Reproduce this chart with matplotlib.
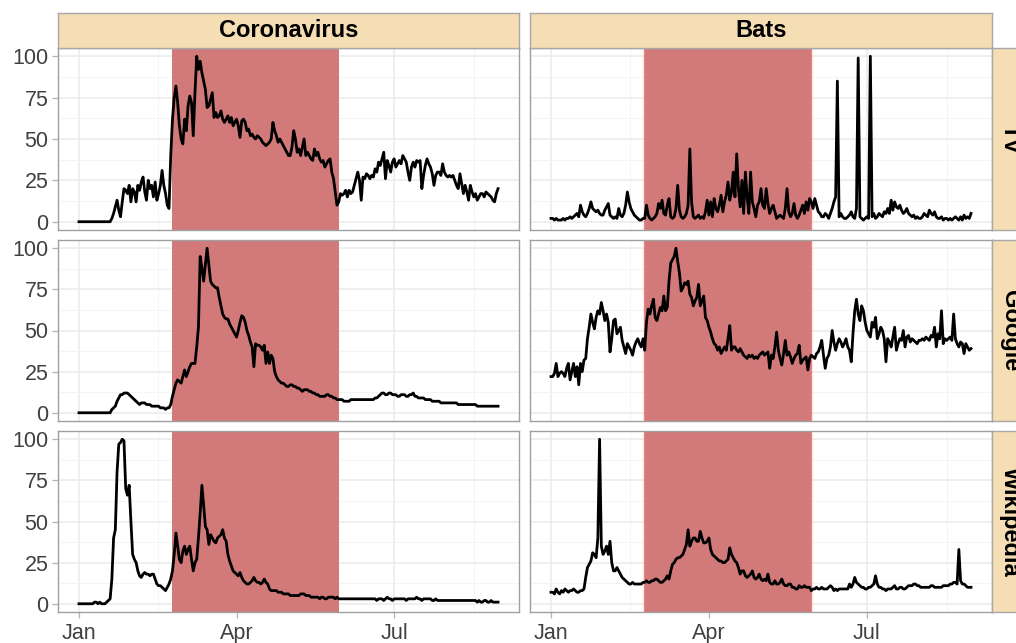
import numpy as np
import pandas as pd
import matplotlib
matplotlib.use("agg")
import matplotlib.pyplot as plt
import matplotlib.dates as mdates

plt.rcParams["font.family"] = ["Liberation Sans", "DejaVu Sans"]

# facet labels
col_labels = ["Coronavirus", "Bats"]
row_labels = ["TV", "Google", "Wikipedia"]
month_labels = ["Jan", "Apr", "Jul"]
month_ticks = ["2020-01-01", "2020-04-01", "2020-07-01"]
start_date = "2020-01-01"
shade_start = "2020-02-23 12:00"
shade_end = "2020-05-30"

# daily values (Jan 1 .. Aug 30)
tv_corona = [
    0, 0, 0, 0, 0, 0, 0, 0, 0, 0,
    0, 0, 0, 0, 0, 0, 0, 0, 0, 2,
    5, 9, 13, 7, 3, 12, 20, 19, 17, 22,
    12, 20, 18, 12, 22, 19, 24, 27, 18, 13,
    25, 20, 22, 15, 24, 13, 17, 22, 31, 22,
    17, 10, 8, 40, 62, 75, 82, 72, 58, 50,
    47, 62, 55, 70, 76, 72, 52, 78, 100, 92,
    97, 90, 85, 80, 69, 70, 74, 78, 63, 66,
    63, 64, 67, 62, 60, 62, 64, 60, 63, 58,
    60, 62, 58, 51, 61, 62, 60, 55, 56, 52,
    53, 51, 50, 52, 51, 50, 48, 47, 46, 47,
    48, 50, 60, 55, 52, 48, 50, 48, 46, 44,
    42, 40, 40, 45, 55, 50, 42, 44, 40, 45,
    50, 40, 42, 40, 38, 37, 44, 40, 42, 38,
    36, 37, 33, 35, 37, 38, 30, 26, 18, 10,
    12, 17, 16, 17, 19, 15, 19, 17, 18, 22,
    26, 30, 25, 13, 27, 26, 29, 28, 26, 28,
    27, 32, 30, 36, 34, 38, 42, 26, 37, 34,
    30, 36, 38, 33, 35, 37, 35, 40, 38, 36,
    30, 25, 33, 36, 33, 37, 36, 37, 20, 28,
    34, 38, 35, 33, 29, 22, 28, 30, 30, 28,
    35, 30, 28, 27, 28, 27, 28, 25, 22, 20,
    29, 23, 17, 22, 18, 13, 22, 18, 15, 17,
    13, 15, 17, 17, 15, 18, 17, 16, 15, 13,
    12, 17, 20,
]
tv_bats = [
    2, 2, 1, 2, 1, 1, 1, 2, 1, 2,
    2, 3, 2, 3, 4, 5, 3, 10, 6, 4,
    3, 5, 8, 12, 8, 7, 6, 7, 5, 4,
    4, 7, 9, 11, 4, 3, 2, 3, 2, 8,
    4, 3, 5, 10, 18, 12, 8, 6, 4, 3,
    2, 1, 1, 2, 2, 10, 4, 2, 1, 2,
    3, 5, 11, 8, 13, 5, 4, 10, 14, 3,
    2, 3, 8, 22, 7, 3, 2, 3, 5, 10,
    44, 12, 3, 2, 3, 4, 2, 3, 2, 6,
    13, 4, 12, 3, 14, 8, 6, 10, 16, 6,
    12, 16, 24, 13, 18, 30, 15, 41, 20, 9,
    25, 5, 30, 15, 5, 30, 12, 8, 3, 10,
    12, 20, 10, 8, 20, 11, 5, 8, 10, 6,
    2, 3, 4, 3, 2, 8, 20, 6, 3, 5,
    11, 4, 2, 4, 7, 10, 5, 12, 7, 14,
    12, 8, 14, 10, 6, 5, 3, 3, 5, 4,
    2, 5, 8, 12, 15, 85, 3, 5, 3, 2,
    2, 3, 4, 6, 3, 2, 8, 99, 3, 2,
    1, 2, 3, 2, 100, 3, 5, 2, 3, 5,
    4, 3, 6, 5, 8, 5, 13, 7, 12, 9,
    8, 10, 7, 5, 6, 8, 5, 4, 3, 4,
    2, 3, 2, 2, 3, 5, 4, 3, 7, 5,
    4, 6, 3, 2, 2, 3, 1, 2, 2, 1,
    2, 1, 2, 3, 2, 1, 3, 1, 4, 2,
    3, 2, 5,
]
google_corona = [
    0, 0, 0, 0, 0, 0, 0, 0, 0, 0,
    0, 0, 0, 0, 0, 0, 0, 0, 0, 2,
    3, 4, 7, 9, 11, 11, 12, 12, 12, 11,
    10, 9, 8, 7, 6, 5, 6, 6, 6, 5,
    5, 5, 4, 4, 4, 4, 4, 3, 3, 3,
    2, 3, 3, 5, 10, 14, 18, 20, 19, 18,
    22, 26, 22, 25, 28, 30, 30, 30, 40, 52,
    95, 88, 80, 90, 100, 90, 80, 78, 77, 76,
    76, 70, 65, 60, 58, 57, 57, 54, 52, 50,
    48, 46, 50, 55, 59, 58, 55, 50, 47, 43,
    40, 28, 42, 41, 41, 40, 38, 41, 30, 37,
    30, 35, 33, 25, 22, 20, 19, 18, 18, 17,
    16, 16, 17, 17, 16, 16, 15, 15, 14, 13,
    14, 14, 14, 13, 13, 12, 12, 11, 11, 10,
    10, 10, 10, 11, 11, 10, 10, 9, 9, 8,
    8, 8, 8, 7, 7, 7, 7, 8, 8, 8,
    8, 8, 8, 8, 8, 8, 8, 8, 8, 8,
    8, 9, 9, 10, 11, 12, 12, 11, 11, 12,
    12, 11, 11, 11, 10, 10, 11, 11, 11, 10,
    10, 11, 11, 12, 10, 10, 9, 9, 9, 9,
    8, 8, 8, 8, 7, 7, 7, 7, 7, 6,
    6, 6, 6, 6, 6, 6, 6, 6, 6, 5,
    5, 5, 5, 5, 5, 5, 5, 5, 5, 5,
    4, 4, 4, 4, 4, 4, 4, 4, 4, 4,
    4, 4, 4,
]
google_bats = [
    22, 22, 24, 30, 22, 24, 25, 24, 22, 27,
    30, 20, 25, 30, 22, 28, 17, 30, 25, 32,
    33, 45, 52, 60, 55, 51, 58, 62, 60, 67,
    62, 56, 60, 55, 37, 45, 56, 57, 48, 50,
    52, 44, 40, 36, 42, 40, 38, 35, 40, 43,
    45, 42, 40, 45, 38, 55, 63, 60, 65, 69,
    58, 56, 60, 64, 62, 71, 62, 64, 80, 91,
    93, 95, 100, 92, 85, 74, 76, 79, 78, 80,
    72, 70, 65, 68, 70, 78, 65, 68, 71, 58,
    56, 52, 49, 45, 42, 41, 38, 40, 36, 38,
    40, 38, 45, 53, 38, 40, 40, 38, 37, 39,
    37, 35, 34, 33, 35, 34, 35, 33, 34, 33,
    35, 36, 37, 35, 36, 37, 27, 35, 33, 40,
    49, 38, 33, 29, 36, 44, 35, 37, 34, 30,
    33, 35, 36, 41, 30, 32, 33, 34, 26, 33,
    35, 34, 33, 36, 37, 40, 44, 35, 27, 33,
    35, 40, 50, 43, 38, 42, 45, 43, 40, 42,
    45, 40, 38, 31, 48, 62, 69, 60, 56, 65,
    62, 55, 50, 48, 46, 55, 52, 58, 45, 48,
    52, 50, 45, 31, 45, 43, 40, 46, 52, 38,
    42, 45, 44, 50, 40, 46, 47, 43, 45, 44,
    43, 42, 44, 44, 45, 44, 46, 45, 44, 47,
    46, 52, 40, 48, 45, 62, 42, 45, 44, 45,
    46, 44, 60, 45, 42, 40, 43, 42, 36, 42,
    40, 38, 39,
]
wiki_corona = [
    0, 0, 0, 0, 0, 0, 0, 0, 0, 1,
    1, 0, 1, 0, 0, 0, 1, 2, 3, 15,
    40, 45, 80, 97, 98, 100, 99, 70, 66, 72,
    50, 30, 27, 25, 20, 17, 16, 18, 19, 18,
    18, 17, 18, 18, 15, 12, 11, 11, 10, 9,
    8, 10, 12, 15, 20, 30, 43, 35, 27, 25,
    32, 35, 30, 33, 35, 27, 20, 25, 27, 40,
    55, 72, 60, 47, 45, 36, 42, 40, 38, 37,
    40, 41, 42, 45, 40, 38, 30, 26, 23, 20,
    19, 18, 17, 19, 16, 14, 13, 12, 12, 13,
    14, 16, 14, 13, 13, 12, 13, 15, 13, 12,
    9, 8, 8, 8, 8, 7, 7, 7, 6, 6,
    6, 6, 5, 5, 5, 5, 5, 5, 6, 6,
    6, 5, 5, 5, 4, 4, 4, 4, 4, 3,
    4, 4, 3, 3, 4, 4, 4, 4, 3, 4,
    3, 3, 3, 3, 3, 3, 3, 3, 3, 3,
    3, 3, 3, 3, 3, 3, 3, 3, 3, 3,
    3, 3, 2, 3, 3, 3, 2, 3, 4, 3,
    3, 2, 3, 3, 3, 3, 3, 3, 3, 2,
    3, 3, 3, 3, 3, 4, 3, 3, 2, 3,
    3, 3, 3, 3, 2, 2, 3, 2, 2, 2,
    2, 2, 2, 2, 2, 2, 2, 2, 2, 2,
    2, 2, 2, 2, 2, 2, 2, 2, 2, 2,
    1, 2, 1, 1, 2, 2, 1, 1, 2, 1,
    1, 1, 1,
]
wiki_bats = [
    7, 7, 6, 9, 7, 6, 8, 7, 9, 8,
    7, 8, 8, 9, 8, 7, 7, 8, 8, 9,
    16, 22, 24, 26, 31, 30, 28, 40, 100, 35,
    30, 32, 35, 30, 38, 25, 20, 20, 22, 20,
    18, 16, 15, 14, 13, 12, 12, 13, 12, 12,
    12, 12, 12, 13, 13, 14, 13, 13, 14, 14,
    15, 15, 14, 13, 13, 14, 15, 17, 15, 20,
    24, 25, 27, 28, 28, 29, 30, 33, 36, 45,
    35, 38, 40, 40, 38, 38, 44, 40, 37, 37,
    38, 40, 33, 30, 29, 28, 27, 26, 26, 25,
    25, 26, 27, 34, 30, 28, 26, 25, 22, 18,
    20, 20, 17, 16, 17, 18, 20, 16, 15, 16,
    18, 15, 14, 15, 14, 18, 13, 12, 12, 14,
    12, 12, 13, 15, 12, 11, 11, 12, 12, 10,
    10, 9, 9, 11, 10, 10, 11, 10, 10, 10,
    8, 9, 9, 10, 9, 9, 10, 9, 9, 9,
    10, 11, 10, 8, 9, 8, 9, 9, 9, 9,
    9, 9, 12, 10, 12, 16, 13, 12, 11, 10,
    10, 9, 9, 10, 10, 11, 12, 17, 12, 10,
    10, 9, 9, 8, 9, 9, 9, 10, 11, 9,
    9, 10, 10, 9, 9, 10, 11, 11, 11, 12,
    12, 11, 11, 10, 10, 10, 10, 10, 10, 11,
    11, 10, 10, 10, 10, 10, 11, 11, 11, 11,
    12, 12, 13, 13, 12, 33, 14, 12, 12, 11,
    10, 10, 10,
]

series = [[tv_corona, tv_bats],
          [google_corona, google_bats],
          [wiki_corona, wiki_bats]]

W, H = 1016, 643
fig = plt.figure(figsize=(W / 100, H / 100), dpi=100)

def px_axes(x0, y0, x1, y1):
    return fig.add_axes([x0 / W, 1 - y1 / H, (x1 - x0) / W, (y1 - y0) / H])

col_x = [(58, 519), (530, 992)]
row_y = [(48, 230), (240, 421), (431, 612)]
strip_fill = "#F5DEB3"
strip_edge = "#A8A8A8"
shade = "#D27A7A"

t0 = pd.Timestamp(start_date)
n_days = 243
xlo = mdates.date2num(t0 - pd.Timedelta(days=0.05 * (n_days - 1)))
xhi = mdates.date2num(t0 + pd.Timedelta(days=1.05 * (n_days - 1)))
minor_ticks = [mdates.date2num(pd.Timestamp(d)) for d in
               ["2020-02-15 12:00", "2020-05-16 12:00", "2020-08-16"]]

for r in range(3):
    for c in range(2):
        vals = series[r][c]
        dates = pd.date_range(start_date, periods=len(vals), freq="D")
        ax = px_axes(col_x[c][0], row_y[r][0], col_x[c][1], row_y[r][1])
        ax.set_xlim(xlo, xhi)
        ax.set_ylim(-5, 105)
        ax.set_yticks([0, 25, 50, 75, 100])
        ax.set_yticks([12.5, 37.5, 62.5, 87.5], minor=True)
        ax.set_xticks([mdates.date2num(pd.Timestamp(d)) for d in month_ticks])
        ax.set_xticks(minor_ticks, minor=True)
        ax.grid(which="major", color="#EBEBEB", lw=1.1, zorder=0)
        ax.grid(which="minor", color="#F3F3F3", lw=0.6, zorder=0)
        ax.set_axisbelow(True)
        ax.axvspan(mdates.date2num(pd.Timestamp(shade_start)),
                   mdates.date2num(pd.Timestamp(shade_end)),
                   color=shade, lw=0, zorder=1)
        if c == 1:
            for edge in [shade_start, shade_end]:
                ax.axvline(mdates.date2num(pd.Timestamp(edge)), color="#F08080", lw=1.0, zorder=1.5)
        ax.plot(mdates.date2num(dates), vals, color="black", lw=2.0,
                solid_joinstyle="round", zorder=3)
        for s in ax.spines.values():
            s.set_color("#A0A0A0")
            s.set_linewidth(1.0)
            s.set_zorder(4)
        ax.tick_params(which="minor", length=0)
        ax.tick_params(which="major", length=4, width=0.9, color="#B3B3B3",
                       labelsize=15.5, labelcolor="#404040", pad=3)
        if c == 0:
            ax.set_yticklabels([str(v) for v in [0, 25, 50, 75, 100]])
        else:
            ax.tick_params(axis="y", length=0, labelleft=False)
        if r == 2:
            ax.set_xticklabels(month_labels)
            ax.tick_params(axis="x", pad=4)
        else:
            ax.tick_params(axis="x", length=0, labelbottom=False)

# column strips
for c in range(2):
    sa = px_axes(col_x[c][0], 13, col_x[c][1], 48)
    sa.set_facecolor(strip_fill)
    sa.set_xticks([])
    sa.set_yticks([])
    for s in sa.spines.values():
        s.set_color(strip_edge)
        s.set_linewidth(1.0)
    sa.text(0.5, 0.5, col_labels[c], ha="center", va="center",
            fontsize=17, fontweight="bold", color="black", transform=sa.transAxes)

# row strips (run past the right edge of the picture, as in the original)
for r in range(3):
    sa = px_axes(992, row_y[r][0], 1029, row_y[r][1])
    sa.set_facecolor(strip_fill)
    sa.set_xticks([])
    sa.set_yticks([])
    for s in sa.spines.values():
        s.set_color(strip_edge)
        s.set_linewidth(1.0)
    sa.text(0.5, 0.5, row_labels[r], ha="center", va="center", rotation=-90,
            fontsize=17, fontweight="bold", color="black", transform=sa.transAxes)

fig.savefig("out.png", dpi=100)
